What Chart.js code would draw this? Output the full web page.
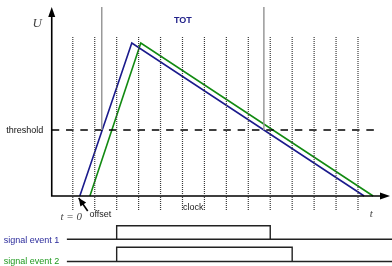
<!DOCTYPE html>
<html>
<head>
<meta charset="utf-8">
<script src="https://cdn.jsdelivr.net/npm/chart.js@4"></script>
<style>
  html, body { margin: 0; padding: 0; background: #fff; }
  canvas { display: block; }
</style>
</head>
<body>
<canvas id="tot" width="392" height="266"></canvas>
<script>
// time in clock periods, amplitude in arbitrary units (peak = 10)
const clockTicks = [0, 1, 2, 3, 4, 5, 6, 7, 8, 9, 10, 11, 12, 13];
const clockSpan = [-0.92, 10.46];

const pulse1 = [[0.32, 0], [2.69, 10], [13.28, 0]];
const pulse2 = [[0.78, 0], [3.10, 10], [13.69, 0]];

const threshold = 4.31;
const thresholdSpan = [-0.96, 14.0];
const totCrossings = [1.32, 8.71];
const totTop = 12.35;

// digitised events: start, stop, low, high
const event1 = [2, 9, -2.83, -1.94];
const event2 = [2, 10, -4.28, -3.35];
const eventSpan = [-0.27, 14.7];

const origin = [-0.96, 0];
const tEnd = 14.46;
const uEnd = 12.35;
const offsetArrow = [[0.68, -0.98], [0.27, -0.13]];

const labels = [
  { text: "U", x: -1.62, y: 11.3, font: "italic 13px 'Liberation Serif'", color: "#444", align: "center" },
  { text: "TOT", x: 5.02, y: 11.5, font: "bold 9px 'Liberation Sans'", color: "#22228a", align: "center" },
  { text: "threshold", x: -1.35, y: 4.25, font: "9px 'Liberation Sans'", color: "#111", align: "right" },
  { text: "t = 0", x: -0.07, y: -1.37, font: "italic 11px 'Liberation Serif'", color: "#444", align: "center" },
  { text: "offset", x: 0.76, y: -1.24, font: "9px 'Liberation Sans'", color: "#222", align: "left" },
  { text: "clock", x: 5.02, y: -0.72, font: "9px 'Liberation Sans'", color: "#222", align: "left" },
  { text: "t", x: 13.6, y: -1.2, font: "italic 11px 'Liberation Serif'", color: "#444", align: "center" },
  { text: "signal event 1", x: -3.15, y: -2.88, font: "9px 'Liberation Sans'", color: "#2b2b9b", align: "left" },
  { text: "signal event 2", x: -3.15, y: -4.3, font: "9px 'Liberation Sans'", color: "#1f9a1f", align: "left" }
];

const pts = a => a.map(p => ({ x: p[0], y: p[1] }));

function vlines(xs, y0, y1) {
  const d = [];
  xs.forEach(x => { d.push({ x: x, y: y0 }, { x: x, y: y1 }, { x: x, y: null }); });
  return d;
}

function eventTrace(ev) {
  const [start, stop, low, high] = ev;
  return [
    { x: eventSpan[0], y: low }, { x: eventSpan[1], y: low }, { x: eventSpan[1], y: null },
    { x: start, y: low }, { x: start, y: high }, { x: stop, y: high }, { x: stop, y: low }
  ];
}

function line(data, color, width, dash) {
  return {
    data: data,
    borderColor: color,
    borderWidth: width,
    borderDash: dash || [],
    pointRadius: 0,
    tension: 0,
    fill: false,
    spanGaps: false
  };
}

const arrowPlugin = {
  id: "arrows",
  afterDatasetsDraw(chart) {
    const c = chart.ctx;
    const xs = chart.scales.x, ys = chart.scales.y;
    const P = (x, y) => [xs.getPixelForValue(x), ys.getPixelForValue(y)];

    function head(from, to, len, half) {
      const a = P(from[0], from[1]), b = P(to[0], to[1]);
      const ang = Math.atan2(b[1] - a[1], b[0] - a[0]);
      c.save();
      c.fillStyle = "#000";
      c.beginPath();
      c.moveTo(b[0], b[1]);
      c.lineTo(b[0] - len * Math.cos(ang) + half * Math.sin(ang), b[1] - len * Math.sin(ang) - half * Math.cos(ang));
      c.lineTo(b[0] - len * Math.cos(ang) - half * Math.sin(ang), b[1] - len * Math.sin(ang) + half * Math.cos(ang));
      c.closePath();
      c.fill();
      c.restore();
    }
    head(origin, [tEnd, 0], 10, 3.5);
    head(origin, [origin[0], uEnd], 10, 3.5);
    head(offsetArrow[0], offsetArrow[1], 8, 3.5);

    c.save();
    c.textBaseline = "middle";
    labels.forEach(l => {
      const p = P(l.x, l.y);
      c.font = l.font;
      c.fillStyle = l.color;
      c.textAlign = l.align;
      c.fillText(l.text, p[0], p[1]);
    });
    c.restore();
  }
};

new Chart(document.getElementById("tot"), {
  type: "line",
  data: {
    datasets: [
      line(vlines(clockTicks, clockSpan[0], clockSpan[1]), "#3a3a3a", 1.2, [1, 1]),
      line(vlines(totCrossings, threshold, totTop), "#999", 1.5),
      line(pts([[thresholdSpan[0], threshold], [thresholdSpan[1], threshold]]), "#000", 1.4, [7.5, 6.8]),
      line(pts([[origin[0], uEnd - 4 / 15.3], origin, [tEnd - 0.2, 0]]), "#000", 1.6),
      line(pts(offsetArrow), "#000", 1.6),
      line(pts(pulse1), "#1a1a8c", 1.6),
      line(pts(pulse2), "#118a11", 1.6),
      line(eventTrace(event1), "#222", 1.4),
      line(eventTrace(event2), "#222", 1.4)
    ]
  },
  options: {
    responsive: false,
    animation: false,
    events: [],
    layout: { padding: 0 },
    plugins: { legend: { display: false }, tooltip: { enabled: false } },
    scales: {
      x: { type: "linear", min: -3.318, max: 14.55, display: false },
      y: { type: "linear", min: -4.575, max: 12.81, display: false }
    }
  },
  plugins: [arrowPlugin]
});
</script>
</body>
</html>
